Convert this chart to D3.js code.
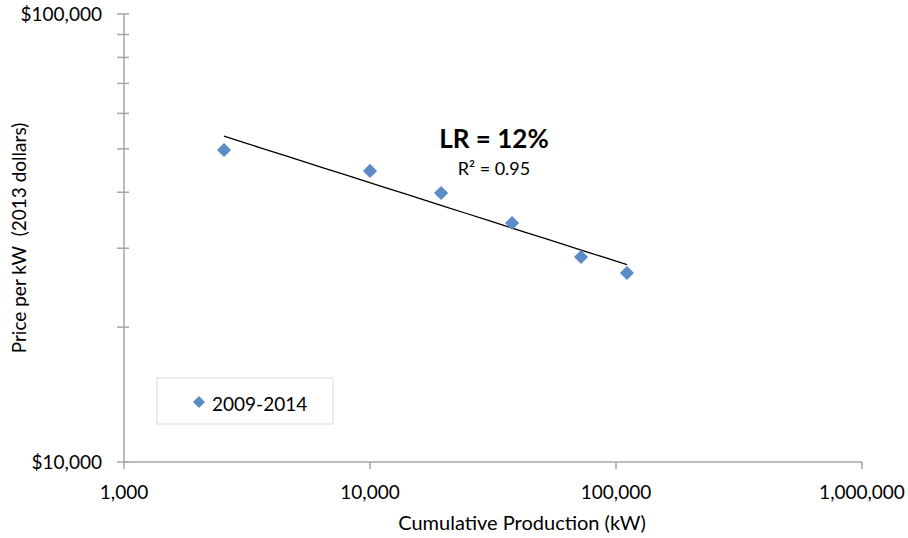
<!DOCTYPE html>
<html>
<head>
<meta charset="utf-8">
<script src="https://cdn.jsdelivr.net/npm/d3@7"></script>
<style>
  body { margin: 0; background: #fff; }
  text { font-family: Lato, "Open Sans", sans-serif; fill: #000; }
</style>
</head>
<body>
<div id="chart"></div>
<script>
// Data
const production = [2550, 10000, 19450, 37800, 72100, 110800]   // kW
const price = [49700, 44640, 39850, 34160, 28680, 26420]        // $/kW
const seriesName = '2009-2014'
const xTicks = [1000, 10000, 100000, 1000000]
const yTicks = [10000, 100000]
const yMinorTicks = [20000, 30000, 40000, 50000, 60000, 70000, 80000, 90000]
const annotation = 'LR = 12%'
const rSquared = 'R² = 0.95'

const dataset = production.map((x, i) => ({ x, y: price[i] }))

// Dimensions
const width = 908, height = 538
const margins = { left: 124, top: 14, right: 46, bottom: 76 }
const ctrHeight = height - margins.top - margins.bottom

const svg = d3.select('#chart')
  .append('svg')
  .attr('width', width)
  .attr('height', height)

const ctr = svg.append('g')
  .attr('transform', `translate(${margins.left}, ${margins.top})`)

// Scales
const xScale = d3.scaleLog()
  .domain([1000, 1000000])
  .range([0, 738])

const yScale = d3.scaleLog()
  .domain([10000, 100000])
  .range([ctrHeight, 0])

const axisColor = '#a6a6a6'
const fmt = d3.format(',')

// x axis
const xAxis = ctr.append('g').attr('transform', `translate(0, ${ctrHeight})`)
xAxis.append('line')
  .attr('x1', 0).attr('x2', xScale(1000000))
  .attr('stroke', axisColor).attr('stroke-width', 1.5)
xAxis.selectAll('.tick')
  .data(xTicks)
  .join('line')
  .attr('x1', d => xScale(d)).attr('x2', d => xScale(d))
  .attr('y1', 0).attr('y2', 7)
  .attr('stroke', axisColor).attr('stroke-width', 1.5)
xAxis.selectAll('.lbl')
  .data(xTicks)
  .join('text')
  .attr('x', d => xScale(d))
  .attr('y', 37)
  .attr('text-anchor', 'middle')
  .style('font-size', '19px')
  .text(d => fmt(d))

// y axis
const yAxis = ctr.append('g')
yAxis.append('line')
  .attr('y1', 0).attr('y2', ctrHeight)
  .attr('stroke', axisColor).attr('stroke-width', 1.5)
yAxis.selectAll('.tick')
  .data(yTicks.concat(yMinorTicks))
  .join('line')
  .attr('x1', -7).attr('x2', 5)
  .attr('y1', d => yScale(d)).attr('y2', d => yScale(d))
  .attr('stroke', axisColor).attr('stroke-width', 1.5)
yAxis.selectAll('.lbl')
  .data(yTicks)
  .join('text')
  .attr('x', -22)
  .attr('y', d => yScale(d))
  .attr('dy', '0.35em')
  .attr('text-anchor', 'end')
  .style('font-size', '19px')
  .text(d => '$' + fmt(d))

// axis titles
svg.append('text')
  .attr('x', 522)
  .attr('y', 530)
  .attr('text-anchor', 'middle')
  .style('font-size', '20px')
  .text('Cumulative Production (kW)')

svg.append('text')
  .attr('transform', 'translate(26, 238) rotate(-90)')
  .attr('text-anchor', 'middle')
  .style('font-size', '19px')
  .style('white-space', 'pre')
  .text('Price per kW  (2013 dollars)')

// power trend line: least squares fit in log space
const lx = dataset.map(d => Math.log10(d.x))
const ly = dataset.map(d => Math.log10(d.y))
const mx = d3.mean(lx), my = d3.mean(ly)
const slope = d3.sum(lx, (v, i) => (v - mx) * (ly[i] - my)) / d3.sum(lx, v => (v - mx) ** 2)
const fitY = x => Math.pow(10, my + slope * (Math.log10(x) - mx))
const xExt = d3.extent(production)
const trend = d3.range(0, 21).map(i => {
  const x = Math.pow(10, Math.log10(xExt[0]) + i / 20 * (Math.log10(xExt[1]) - Math.log10(xExt[0])))
  return { x, y: fitY(x) }
})

const lineGenerator = d3.line()
  .x(d => xScale(d.x))
  .y(d => yScale(d.y))

ctr.append('path')
  .datum(trend)
  .attr('d', lineGenerator)
  .attr('fill', 'none')
  .attr('stroke', '#000')
  .attr('stroke-width', 1.3)

// points
const diamond = d3.symbol().type(d3.symbolSquare).size(100)
const pointColor = '#5b8cc8'
ctr.selectAll('.pt')
  .data(dataset)
  .join('path')
  .attr('d', diamond)
  .attr('fill', pointColor)
  .attr('transform', d => `translate(${xScale(d.x)}, ${yScale(d.y)}) rotate(45)`)

// annotation
svg.append('text')
  .attr('x', 494).attr('y', 148)
  .attr('text-anchor', 'middle')
  .style('font-size', '26px')
  .style('font-weight', 'bold')
  .text(annotation)
svg.append('text')
  .attr('x', 494).attr('y', 175)
  .attr('text-anchor', 'middle')
  .style('font-size', '18px')
  .text(rSquared)

// legend
const legend = svg.append('g').attr('transform', 'translate(157, 378)')
legend.append('rect')
  .attr('width', 176).attr('height', 46)
  .attr('fill', '#fff')
  .attr('stroke', '#d9d9d9')
legend.append('path')
  .attr('d', d3.symbol().type(d3.symbolSquare).size(72))
  .attr('fill', pointColor)
  .attr('transform', 'translate(42, 24) rotate(45)')
legend.append('text')
  .attr('x', 55).attr('y', 33)
  .style('font-size', '19px')
  .text(seriesName)
</script>
</body>
</html>
